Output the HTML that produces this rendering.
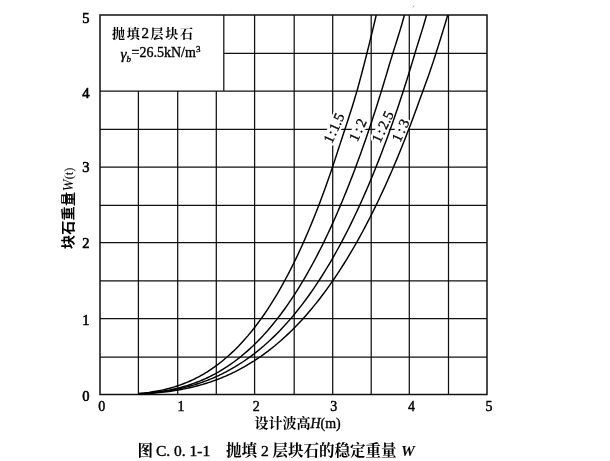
<!DOCTYPE html>
<html><head><meta charset="utf-8"><style>
html,body{margin:0;padding:0;background:#fff;}
body{width:610px;height:461px;overflow:hidden;position:relative;}
svg{position:absolute;left:0;top:0;}
.num{font-family:"Liberation Serif",serif;font-weight:normal;stroke:#000;stroke-width:0.45px;}
.cjk{font-family:"Liberation Serif","Noto Serif CJK SC",serif;}
</style></head><body>
<svg width="610" height="461" viewBox="0 0 610 461">
<g stroke="#111" stroke-width="1.25" fill="none">
<line x1="138.40" y1="91.00" x2="138.40" y2="394.50"/>
<line x1="177.70" y1="91.00" x2="177.70" y2="394.50"/>
<line x1="216.30" y1="91.00" x2="216.30" y2="394.50"/>
<line x1="254.60" y1="15.00" x2="254.60" y2="394.50"/>
<line x1="294.20" y1="15.00" x2="294.20" y2="394.50"/>
<line x1="332.70" y1="15.00" x2="332.70" y2="394.50"/>
<line x1="371.20" y1="15.00" x2="371.20" y2="394.50"/>
<line x1="409.30" y1="15.00" x2="409.30" y2="394.50"/>
<line x1="448.50" y1="15.00" x2="448.50" y2="394.50"/>
<line x1="100.00" y1="357.00" x2="487.00" y2="357.00"/>
<line x1="100.00" y1="318.60" x2="487.00" y2="318.60"/>
<line x1="100.00" y1="280.90" x2="487.00" y2="280.90"/>
<line x1="100.00" y1="242.50" x2="487.00" y2="242.50"/>
<line x1="100.00" y1="205.30" x2="487.00" y2="205.30"/>
<line x1="100.00" y1="167.00" x2="487.00" y2="167.00"/>
<line x1="100.00" y1="129.30" x2="487.00" y2="129.30"/>
<line x1="100.00" y1="91.00" x2="487.00" y2="91.00"/>
<line x1="223.80" y1="53.30" x2="487.00" y2="53.30"/>
<line x1="223.80" y1="15.00" x2="223.80" y2="91.00"/>
</g>
<rect x="100" y="15.0" width="387" height="379.5" fill="none" stroke="#111" stroke-width="1.5"/>
<g fill="#fff">
<rect x="-15.0" y="-5.5" width="30.0" height="11" transform="translate(333.8 128.0) rotate(-65)"/>
<rect x="-10.0" y="-5.5" width="20.0" height="11" transform="translate(357.6 129.8) rotate(-65)"/>
<rect x="-15.0" y="-5.5" width="30.0" height="11" transform="translate(382.5 126.8) rotate(-65)"/>
<rect x="-10.0" y="-5.5" width="20.0" height="11" transform="translate(400.4 130.3) rotate(-65)"/>
</g>
<g font-family="Liberation Serif,serif" font-size="14.5" text-anchor="middle" letter-spacing="0" fill="#fff" stroke="#fff" stroke-width="4.5" stroke-linejoin="round">
<text transform="translate(333.8 128.0) rotate(-65)" y="5">1<tspan dx="0.8">:</tspan><tspan dx="0.8">1.5</tspan></text>
<text transform="translate(357.6 129.8) rotate(-65)" y="5">1<tspan dx="2.3">:</tspan><tspan dx="2.3">2</tspan></text>
<text transform="translate(382.5 126.8) rotate(-65)" y="5">1<tspan dx="1.8">:</tspan><tspan dx="1.8">2.5</tspan></text>
<text transform="translate(400.4 130.3) rotate(-65)" y="5">1<tspan dx="2.3">:</tspan><tspan dx="2.3">3</tspan></text>
</g>
<g stroke="#000" stroke-width="1.45" fill="none" stroke-linejoin="round">
<path d="M138.70 393.49 L144.36 392.93 L148.87 392.38 L152.69 391.82 L156.03 391.27 L159.02 390.71 L161.74 390.16 L164.24 389.60 L166.57 389.05 L168.75 388.49 L170.80 387.93 L172.74 387.38 L174.59 386.82 L176.35 386.27 L178.04 385.71 L179.65 385.16 L181.21 384.60 L182.71 384.05 L184.15 383.49 L185.55 382.94 L186.91 382.38 L188.23 381.83 L189.51 381.27 L190.75 380.72 L191.97 380.16 L193.15 379.60 L194.30 379.05 L195.43 378.49 L196.53 377.94 L197.61 377.38 L198.66 376.83 L199.69 376.27 L200.71 375.72 L201.70 375.16 L202.67 374.61 L203.63 374.05 L204.57 373.50 L205.49 372.94 L206.40 372.39 L207.29 371.83 L214.99 366.66 L221.78 361.49 L227.91 356.32 L233.50 351.15 L238.67 345.98 L243.48 340.81 L248.00 335.64 L252.25 330.47 L256.28 325.30 L260.12 320.13 L263.78 314.96 L267.28 309.79 L270.64 304.62 L273.87 299.45 L276.99 294.28 L280.00 289.11 L282.91 283.94 L285.73 278.77 L288.46 273.60 L291.12 268.43 L293.70 263.26 L296.22 258.09 L298.67 252.92 L301.06 247.75 L303.39 242.58 L305.67 237.41 L307.90 232.24 L310.08 227.07 L312.21 221.90 L314.30 216.73 L316.35 211.56 L318.36 206.39 L320.33 201.22 L322.26 196.05 L324.16 190.88 L326.03 185.71 L327.87 180.54 L329.67 175.37 L331.44 170.20 L333.19 165.03 L334.91 159.86 L336.60 154.69 L338.27 149.52 L339.95 144.35 L341.65 139.18 L343.36 134.01 L345.06 128.84 L346.76 123.67 L348.45 118.50 L350.12 113.33 L351.76 108.16 L353.37 102.99 L354.95 97.82 L356.47 92.65 L357.95 87.48 L359.36 82.31 L360.75 77.14 L362.12 71.97 L363.47 66.80 L364.81 61.63 L366.13 56.46 L367.44 51.29 L368.73 46.12 L370.01 40.95 L371.28 35.78 L372.54 30.61 L373.78 25.44 L375.01 20.27 L376.22 15.10"/>
<path d="M138.70 393.81 L146.30 393.24 L151.99 392.68 L156.66 392.12 L160.66 391.55 L164.20 390.99 L167.38 390.43 L170.29 389.86 L172.98 389.30 L175.48 388.74 L177.83 388.17 L180.04 387.61 L182.14 387.05 L184.13 386.48 L186.04 385.92 L187.86 385.35 L189.62 384.79 L191.30 384.23 L192.93 383.66 L194.50 383.10 L196.02 382.54 L197.50 381.97 L198.93 381.41 L200.32 380.85 L201.67 380.28 L202.99 379.72 L204.28 379.16 L205.53 378.59 L206.76 378.03 L207.96 377.47 L209.13 376.90 L210.28 376.34 L211.40 375.77 L212.50 375.21 L213.58 374.65 L214.64 374.08 L215.69 373.52 L216.71 372.96 L217.72 372.39 L218.70 371.83 L227.09 366.66 L234.50 361.49 L241.17 356.32 L247.27 351.15 L252.90 345.98 L258.14 340.81 L263.06 335.64 L267.69 330.47 L272.08 325.30 L276.26 320.13 L280.25 314.96 L284.07 309.79 L287.74 304.62 L291.27 299.45 L294.67 294.28 L297.96 289.11 L301.14 283.94 L304.23 278.77 L307.22 273.60 L310.13 268.43 L312.96 263.26 L315.72 258.09 L318.40 252.92 L321.03 247.75 L323.59 242.58 L326.09 237.41 L328.54 232.24 L330.94 227.07 L333.29 221.90 L335.59 216.73 L337.85 211.56 L340.06 206.39 L342.24 201.22 L344.37 196.05 L346.47 190.88 L348.54 185.71 L350.57 180.54 L352.56 175.37 L354.53 170.20 L356.47 165.03 L358.37 159.86 L360.25 154.69 L362.10 149.52 L363.93 144.35 L365.73 139.18 L367.50 134.01 L369.26 128.84 L370.99 123.67 L372.69 118.50 L374.38 113.33 L376.05 108.16 L377.69 102.99 L379.32 97.82 L380.93 92.65 L382.51 87.48 L384.09 82.31 L385.64 77.14 L387.18 71.97 L388.70 66.80 L390.25 61.63 L391.85 56.46 L393.47 51.29 L395.11 46.12 L396.74 40.95 L398.35 35.78 L399.94 30.61 L401.48 25.44 L402.96 20.27 L404.38 15.10"/>
<path d="M138.70 393.88 L147.11 393.31 L153.33 392.75 L158.40 392.18 L162.75 391.62 L166.59 391.05 L170.04 390.49 L173.20 389.92 L176.12 389.36 L178.84 388.79 L181.39 388.22 L183.80 387.66 L186.08 387.09 L188.26 386.53 L190.33 385.96 L192.32 385.40 L194.23 384.83 L196.07 384.27 L197.85 383.70 L199.57 383.14 L201.23 382.57 L202.84 382.01 L204.41 381.44 L205.93 380.88 L207.41 380.31 L208.85 379.74 L210.26 379.18 L211.64 378.61 L212.98 378.05 L214.30 377.48 L215.58 376.92 L216.84 376.35 L218.07 375.79 L219.28 375.22 L220.47 374.66 L221.64 374.09 L222.78 373.53 L223.90 372.96 L225.01 372.40 L226.10 371.83 L235.30 366.66 L243.44 361.49 L250.78 356.32 L257.49 351.15 L263.69 345.98 L269.47 340.81 L274.89 335.64 L280.00 330.47 L284.84 325.30 L289.44 320.13 L293.83 314.96 L298.04 309.79 L302.07 304.62 L305.95 299.45 L309.69 294.28 L313.30 289.11 L316.79 283.94 L320.17 278.77 L323.44 273.60 L326.63 268.43 L329.72 263.26 L332.73 258.09 L335.66 252.92 L338.52 247.75 L341.31 242.58 L344.03 237.41 L346.69 232.24 L349.30 227.07 L351.84 221.90 L354.34 216.73 L356.78 211.56 L359.17 206.39 L361.52 201.22 L363.82 196.05 L366.08 190.88 L368.30 185.71 L370.48 180.54 L372.63 175.37 L374.74 170.20 L376.81 165.03 L378.85 159.86 L380.85 154.69 L382.83 149.52 L384.77 144.35 L386.69 139.18 L388.58 134.01 L390.44 128.84 L392.27 123.67 L394.08 118.50 L395.86 113.33 L397.62 108.16 L399.36 102.99 L401.07 97.82 L402.76 92.65 L404.43 87.48 L406.08 82.31 L407.71 77.14 L409.31 71.97 L410.90 66.80 L412.47 61.63 L414.02 56.46 L415.56 51.29 L417.14 46.12 L418.74 40.95 L420.36 35.78 L421.97 30.61 L423.55 25.44 L425.07 20.27 L426.53 15.10"/>
<path d="M138.70 394.03 L148.87 393.46 L156.04 392.89 L161.76 392.32 L166.60 391.75 L170.84 391.18 L174.64 390.61 L178.09 390.05 L181.27 389.48 L184.23 388.91 L186.99 388.34 L189.60 387.77 L192.07 387.20 L194.41 386.63 L196.65 386.06 L198.79 385.49 L200.84 384.92 L202.82 384.35 L204.73 383.78 L206.57 383.21 L208.35 382.65 L210.08 382.08 L211.75 381.51 L213.38 380.94 L214.96 380.37 L216.51 379.80 L218.01 379.23 L219.48 378.66 L220.91 378.09 L222.31 377.52 L223.68 376.95 L225.03 376.38 L226.34 375.81 L227.63 375.25 L228.89 374.68 L230.14 374.11 L231.35 373.54 L232.55 372.97 L233.73 372.40 L234.88 371.83 L244.60 366.66 L253.19 361.49 L260.94 356.32 L268.01 351.15 L274.55 345.98 L280.64 340.81 L286.36 335.64 L291.74 330.47 L296.85 325.30 L301.70 320.13 L306.34 314.96 L310.77 309.79 L315.03 304.62 L319.13 299.45 L323.08 294.28 L326.89 289.11 L330.58 283.94 L334.15 278.77 L337.62 273.60 L340.99 268.43 L344.26 263.26 L347.45 258.09 L350.56 252.92 L353.59 247.75 L356.55 242.58 L359.44 237.41 L362.26 232.24 L365.02 227.07 L367.73 221.90 L370.38 216.73 L372.98 211.56 L375.53 206.39 L378.03 201.22 L380.48 196.05 L382.89 190.88 L385.26 185.71 L387.58 180.54 L389.87 175.37 L392.12 170.20 L394.34 165.03 L396.52 159.86 L398.66 154.69 L400.78 149.52 L402.86 144.35 L404.91 139.18 L406.93 134.01 L408.93 128.84 L410.90 123.67 L412.84 118.50 L414.76 113.33 L416.65 108.16 L418.52 102.99 L420.41 97.82 L422.31 92.65 L424.20 87.48 L426.08 82.31 L427.93 77.14 L429.76 71.97 L431.53 66.80 L433.26 61.63 L434.94 56.46 L436.60 51.29 L438.24 46.12 L439.86 40.95 L441.47 35.78 L443.06 30.61 L444.64 25.44 L446.19 20.27 L447.74 15.10"/>
</g>
<g font-family="Liberation Serif,serif" font-size="14.5" text-anchor="middle" letter-spacing="0" stroke="#000" stroke-width="0.3" fill="#000">
<text transform="translate(333.8 128.0) rotate(-65)" y="5">1<tspan dx="0.8">:</tspan><tspan dx="0.8">1.5</tspan></text>
<text transform="translate(357.6 129.8) rotate(-65)" y="5">1<tspan dx="2.3">:</tspan><tspan dx="2.3">2</tspan></text>
<text transform="translate(382.5 126.8) rotate(-65)" y="5">1<tspan dx="1.8">:</tspan><tspan dx="1.8">2.5</tspan></text>
<text transform="translate(400.4 130.3) rotate(-65)" y="5">1<tspan dx="2.3">:</tspan><tspan dx="2.3">3</tspan></text>
</g>
<g class="num" font-size="14.5" text-anchor="end" fill="#000" style="stroke-width:0.6px">
<text x="89.5" y="22.8">5</text>
<text x="89.5" y="97.8">4</text>
<text x="89.5" y="171.6">3</text>
<text x="89.5" y="247.8">2</text>
<text x="89.5" y="324.9">1</text>
<text x="89.5" y="400.7">0</text>
</g>
<g class="num" font-size="14" text-anchor="middle" fill="#000">
<text x="101.7" y="410.9">0</text>
<text x="180.9" y="410.9">1</text>
<text x="256.2" y="410.9">2</text>
<text x="333.8" y="410.9">3</text>
<text x="411.5" y="410.9">4</text>
<text x="489" y="410.9">5</text>
</g>
<text class="cjk" x="254.4" y="428" font-size="14" fill="#000"><tspan font-weight="bold">设计波高</tspan><tspan font-style="italic" stroke="#000" stroke-width="0.35">H</tspan><tspan stroke="#000" stroke-width="0.35">(m)</tspan></text>
<text class="cjk" x="112" y="38" font-size="13" fill="#000" letter-spacing="1.7" font-weight="bold">抛填<tspan font-weight="normal" font-size="15" stroke="#000" stroke-width="0.4">2</tspan>层块石</text>
<text class="cjk" x="120.5" y="57" font-size="14" fill="#000" stroke="#000" stroke-width="0.35"><tspan font-style="italic" font-size="15.5" dy="1.5">γ</tspan><tspan font-style="italic" font-size="9" dy="3.5">b</tspan><tspan dy="-5" dx="0.5">=26.5kN/m</tspan><tspan font-size="9" dy="-5">3</tspan></text>
<text x="0" y="0" transform="translate(73,249) rotate(-90)" font-size="14" font-family="Liberation Serif,Noto Sans CJK SC,sans-serif" font-weight="bold" fill="#000" letter-spacing="0.3">块石重量<tspan font-family="Liberation Serif" font-style="italic" font-weight="normal" font-size="14" dx="0.5">W</tspan><tspan font-family="Liberation Serif" font-weight="normal" font-size="12.5" letter-spacing="0">(t)</tspan></text>
<g font-size="15.5" fill="#000">
<text class="cjk" x="137.6" y="455.5" font-weight="bold">图</text>
<text x="156" y="455.5" font-family="Liberation Serif,serif" stroke="#000" stroke-width="0.4">C. 0. 1-1</text>
<text class="cjk" x="226" y="455.5" font-weight="bold">抛填 <tspan font-weight="normal" stroke="#000" stroke-width="0.4">2</tspan> 层块石的稳定重量</text>
<text x="401" y="455.5" font-family="Liberation Serif,serif" font-style="italic" font-weight="bold">W</text>
</g>
<path d="M412.8 7.3 L414.3 5.9" stroke="#888" stroke-width="0.9"/>
</svg>
</body></html>
